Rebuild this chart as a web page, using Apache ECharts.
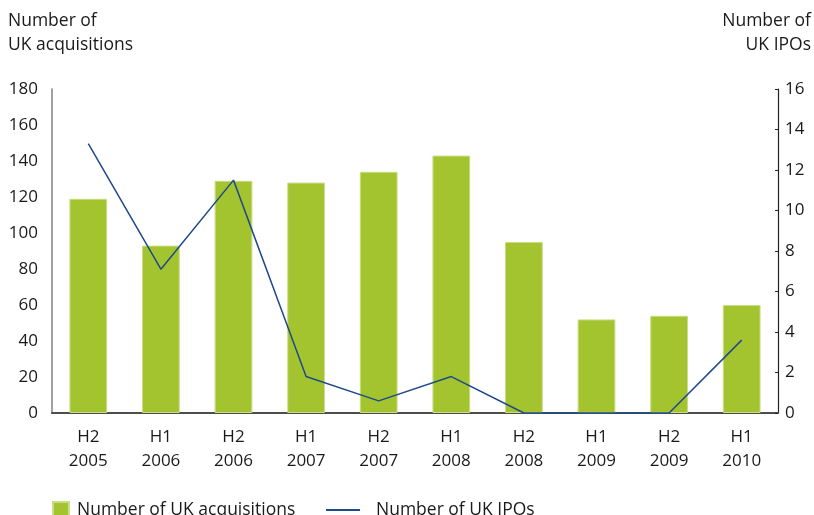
<!DOCTYPE html>
<html>
<head>
<meta charset="utf-8">
<script src="https://cdn.jsdelivr.net/npm/echarts@6/dist/echarts.min.js"></script>
<style>
  html, body { margin: 0; padding: 0; background: #fff; }
  #chart { width: 814px; height: 515px; }
</style>
</head>
<body>
<div id="chart"></div>
<script>
// Half-year periods
const periods = ['H2\n2005', 'H1\n2006', 'H2\n2006', 'H1\n2007', 'H2\n2007',
                 'H1\n2008', 'H2\n2008', 'H1\n2009', 'H2\n2009', 'H1\n2010'];
// Number of UK acquisitions (left axis)
const acquisitions = [119, 93, 129, 128, 134, 143, 95, 52, 54, 60];
// Number of UK IPOs (right axis)
const ipos = [13.3, 7.1, 11.5, 1.8, 0.6, 1.8, 0, 0, 0, 3.6];

const FONT = 'Open Sans';
const TEXT = '#1a1a1a';
const AXIS_FS = 17;
const TITLE_FS = 17.5;

const chart = echarts.init(document.getElementById('chart'));
chart.setOption({
  animation: false,
  textStyle: { fontFamily: FONT },
  grid: { left: 52, right: 36, top: 89, bottom: 102 },
  legend: [
    {
      data: ['Number of UK acquisitions'],
      left: 47, top: 496,
      icon: 'rect', itemWidth: 16, itemHeight: 16,
      textStyle: { fontFamily: FONT, fontSize: TITLE_FS, color: TEXT, padding: [0, 0, 0, 3] }
    },
    {
      data: ['Number of UK IPOs'],
      left: 321, top: 496,
      icon: 'rect', itemWidth: 34, itemHeight: 2,
      textStyle: { fontFamily: FONT, fontSize: TITLE_FS, color: TEXT, padding: [0, 0, 0, 11] }
    }
  ],
  graphic: [
    {
      type: 'text', x: 8, y: 9,
      style: { text: 'Number of\nUK acquisitions', fontFamily: FONT, fontSize: TITLE_FS, fill: TEXT, lineHeight: 24 }
    },
    {
      type: 'text', x: 811, y: 9,
      style: { text: 'Number of\nUK IPOs', fontFamily: FONT, fontSize: TITLE_FS, fill: TEXT, lineHeight: 24, align: 'right' }
    }
  ],
  xAxis: {
    type: 'category',
    data: periods,
    axisLine: { lineStyle: { color: '#4d4d4d', width: 2 } },
    axisTick: { show: false },
    axisLabel: { fontFamily: FONT, fontSize: AXIS_FS, color: TEXT, lineHeight: 24, margin: 12 }
  },
  yAxis: [
    {
      type: 'value', min: 0, max: 180, interval: 20,
      splitLine: { show: false },
      axisLine: { show: true, lineStyle: { color: '#808080', width: 1.5 } },
      axisTick: { show: false },
      axisLabel: { fontFamily: FONT, fontSize: AXIS_FS, color: TEXT, margin: 14 }
    },
    {
      type: 'value', min: 0, max: 16, interval: 2,
      position: 'right',
      splitLine: { show: false },
      axisLine: { show: true, lineStyle: { color: '#222', width: 1.2 } },
      axisTick: { show: true, inside: true, length: 3, lineStyle: { color: '#222' } },
      axisLabel: { fontFamily: FONT, fontSize: AXIS_FS, color: TEXT, margin: 7 }
    }
  ],
  series: [
    {
      name: 'Number of UK acquisitions',
      type: 'bar',
      yAxisIndex: 0,
      data: acquisitions,
      barWidth: '52%',
      itemStyle: { color: '#a4c42f', borderColor: '#c9dd86', borderWidth: 1 }
    },
    {
      name: 'Number of UK IPOs',
      type: 'line',
      yAxisIndex: 1,
      data: ipos,
      showSymbol: false,
      symbol: 'none',
      lineStyle: { color: '#1d4a8a', width: 1.5 },
      itemStyle: { color: '#1d4a8a' }
    }
  ]
});
</script>
</body>
</html>
